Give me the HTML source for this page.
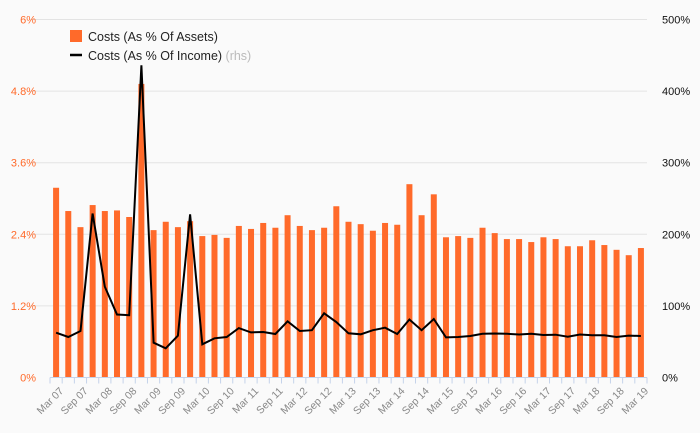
<!DOCTYPE html>
<html><head><meta charset="utf-8"><style>
body{margin:0;background:#fafafa;}
svg{display:block;font-family:"Liberation Sans",sans-serif;}
</style></head><body>
<svg width="700" height="433">
<rect width="700" height="433" fill="#fafafa"/>
<g id="grid"></g><g id="bars"></g><g id="axes"></g><g id="line"></g>
<g>
<rect x="70" y="30" width="12" height="12" fill="#ff6a2a"/>
<text x="88" y="41" font-size="12.5" fill="#222">Costs (As % Of Assets)</text>
<line x1="70" y1="55" x2="82" y2="55" stroke="#000" stroke-width="2.5"/>
<text x="88" y="60" font-size="12.5" fill="#222">Costs (As % Of Income) <tspan fill="#bbb">(rhs)</tspan></text>
</g>
</svg>
<script>
const categories=[];
const yrs=['07','08','09','10','11','12','13','14','15','16','17','18','19'];
for(const y of yrs){categories.push('Mar '+y,'Jun '+y,'Sep '+y,'Dec '+y);}
categories.length=49;
const assetValues=[3.18,2.79,2.52,2.89,2.79,2.80,2.69,4.92,2.47,2.61,2.52,2.62,2.37,2.39,2.34,2.54,2.49,2.59,2.51,2.72,2.54,2.47,2.51,2.87,2.61,2.57,2.46,2.59,2.56,3.24,2.72,3.07,2.35,2.37,2.34,2.51,2.42,2.32,2.32,2.27,2.35,2.32,2.20,2.20,2.30,2.22,2.14,2.05,2.17];
const incomeValues=[62.6,56.6,65,229,127,88,87,436,48.6,40.8,58.4,228,46.4,54.7,56.6,69,63,63.5,60.8,78.5,65,66,89.6,77.5,61.7,60.3,66,69.6,60.8,81,66,81.7,56,56.6,58,61,61.5,61,60,61,59.4,59.8,57,60,59,59,56.6,58.5,58];
const leftTicks=[0,1.2,2.4,3.6,4.8,6];
const leftTickLabels=['0%','1.2%','2.4%','3.6%','4.8%','6%'];
const rightTicks=[0,100,200,300,400,500];
const rightTickLabels=['0%','100%','200%','300%','400%','500%'];
const NS='http://www.w3.org/2000/svg';
const X0=50,X1=647,Y0=377.5,Y1=19.5;
const band=(X1-X0)/categories.length;
const xC=i=>X0+band*(i+0.5);
const yL=v=>Y0-(v/6)*(Y0-Y1);
const yR=v=>Y0-(v/500)*(Y0-Y1);
function mk(tag,attrs,parent){const e=document.createElementNS(NS,tag);for(const k in attrs)e.setAttribute(k,attrs[k]);document.getElementById(parent)?document.getElementById(parent).appendChild(e):parent.appendChild(e);return e;}
leftTicks.forEach((t,i)=>{
 if(i>0){const g=mk('line',{x1:X0-20,x2:X1,y1:yL(t),y2:yL(t),stroke:'#e3e3e3','stroke-width':1},'grid');
 
 }
 const l=mk('text',{x:36,y:yL(t)+4,'text-anchor':'end','font-size':11,fill:'#ff6a2a'},'axes');l.textContent=leftTickLabels[i];
 
 
});
rightTicks.forEach((t,i)=>{
 const l=mk('text',{x:662,y:yR(t)+4,'font-size':11,fill:'#111'},'axes');l.textContent=rightTickLabels[i];
 
 
});
assetValues.forEach((v,i)=>{
 const r=mk('rect',{x:xC(i)-3,y:yL(v),width:6,height:Y0-yL(v),fill:'#ff6a2a'},'bars');
 
 
});
const ax=mk('line',{x1:X0,x2:X1,y1:Y0,y2:Y0,stroke:'#c5d3ea','stroke-width':1},'axes');


for(let i=0;i<=categories.length;i++){
 const t=mk('line',{x1:X0+band*i,x2:X0+band*i,y1:Y0,y2:Y0+6,stroke:'#c5d3ea'},'axes');
 
 
}
categories.forEach((c,i)=>{
 if(i%2)return;
 const x=xC(i)+3,y=Y0+9;
 const l=mk('text',{x:x,y:y,'text-anchor':'end','font-size':10.5,fill:'#888',transform:`rotate(-45 ${x} ${y})`,'dominant-baseline':'hanging'},'axes');
 l.textContent=c;
 
 
});
const pts=incomeValues.map((v,i)=>xC(i).toFixed(1)+','+yR(v).toFixed(1)).join(' ');
const pl=mk('polyline',{points:pts,fill:'none',stroke:'#000','stroke-width':2,'stroke-linejoin':'miter'},'line');


</script>
</body></html>
